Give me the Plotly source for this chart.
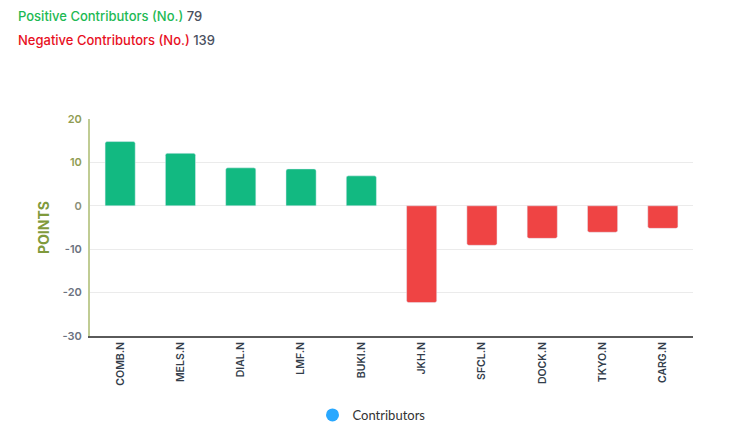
import plotly.graph_objects as go

categories = ["COMB.N", "MELS.N", "DIAL.N", "LMF.N", "BUKI.N", "JKH.N", "SFCL.N", "DOCK.N", "TKYO.N", "CARG.N"]
points = [14.8, 12.1, 8.75, 8.5, 6.9, -22.3, -9.1, -7.5, -6.1, -5.2]
positive_count = 79
negative_count = 139
y_ticks = [20, 10, 0, -10, -20, -30]

GREEN = "#12b981"
RED = "#ef4444"
bar_colors = [GREEN if v >= 0 else RED for v in points]
tick_text = [
    f"<span style='color:{'#8f9c52' if t > 0 else ('#8a8f78' if t == 0 else '#6b7280')}'>{t}</span>"
    for t in y_ticks
]

fig = go.Figure()
fig.add_trace(go.Bar(
    x=categories, y=points,
    marker=dict(color=bar_colors, cornerradius=2),
    width=0.5, showlegend=False,
))
fig.add_trace(go.Scatter(
    x=[None], y=[None], mode="markers", name="Contributors",
    marker=dict(color="#29a8ff", size=13, symbol="circle"),
))

W, H = 742, 426
L, T, R, B = 82, 111, 57, 98
ph = H - T - B

fig.update_layout(
    width=W, height=H,
    margin=dict(l=L, r=R, t=T, b=B, autoexpand=False),
    plot_bgcolor="white", paper_bgcolor="white",
    font=dict(family="Inter, Noto Sans, sans-serif", size=11, color="#333"),
    xaxis=dict(
        tickangle=-90, showline=True, linecolor="#5a5a5a", linewidth=1.5,
        showgrid=False, ticks="", tickfont=dict(size=10.5, color="#333d4a", weight=600),
        automargin=False,
    ),
    yaxis=dict(
        range=[-30, 20], tickvals=y_ticks, ticktext=tick_text,
        showline=True, linecolor="#c0cc94", linewidth=2,
        gridcolor="#ebebeb", gridwidth=1, zeroline=True, zerolinecolor="#ebebeb", zerolinewidth=1,
        ticks="", ticklabelstandoff=4, tickfont=dict(size=11, weight=600),
        title=dict(text="<b>POINTS</b>", font=dict(size=14, color="#7f9a3c"), standoff=10),
        automargin=False,
    ),
    legend=dict(
        orientation="h", x=0.5 - 20 / 603, xanchor="center", y=-(415 - 8 - (T + ph)) / ph, yanchor="middle",
        font=dict(size=13, color="#333", family="Lato, Open Sans, sans-serif"),
    ),
    annotations=[
        dict(text=f"<span style='color:#1db954'>Positive Contributors (No.)</span> <span style='color:#4a5060'>{positive_count}</span>",
             xref="paper", yref="paper", x=-(L - 8) / 603, y=1.0 + (T - 8) / ph, xanchor="left", yanchor="middle",
             showarrow=False, font=dict(size=13, weight=500)),
        dict(text=f"<span style='color:#e8101e'>Negative Contributors (No.)</span> <span style='color:#4a5060'>{negative_count}</span>",
             xref="paper", yref="paper", x=-(L - 8) / 603, y=1.0 + (T - 32) / ph, xanchor="left", yanchor="middle",
             showarrow=False, font=dict(size=13, weight=500)),
    ],
)

fig.write_html("out.html")
